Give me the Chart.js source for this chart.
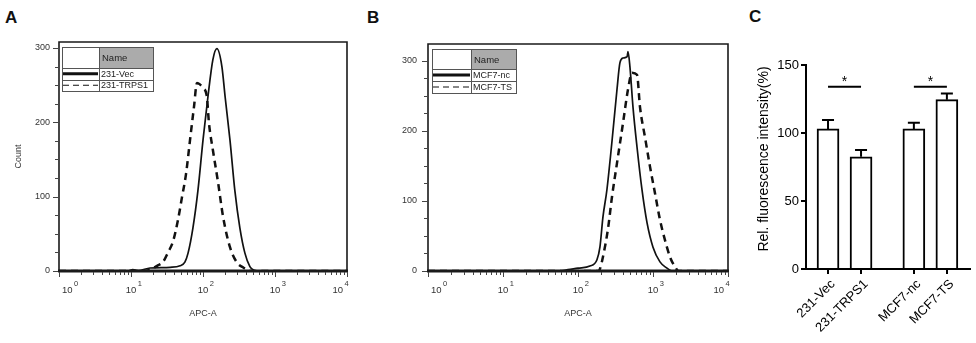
<!DOCTYPE html>
<html><head><meta charset="utf-8">
<script src="https://cdn.jsdelivr.net/npm/chart.js@4.4.1/dist/chart.umd.min.js"></script>
<style>
html,body{margin:0;padding:0;background:#fff;}
body{width:976px;height:343px;position:relative;overflow:hidden;font-family:"Liberation Sans",Arial,sans-serif;}
.wrap{position:absolute;top:0;height:343px;}
.letter{position:absolute;font-weight:bold;font-size:17px;line-height:17px;color:#111;}
canvas{display:block;}
</style></head><body>
<div class="letter" style="left:5px;top:9px">A</div>
<div class="letter" style="left:367px;top:9px">B</div>
<div class="letter" style="left:749px;top:8px">C</div>
<div class="wrap" style="left:0;width:360px"><canvas id="cA" width="360" height="343"></canvas></div>
<div class="wrap" style="left:360px;width:380px"><canvas id="cB" width="380" height="343"></canvas></div>
<div class="wrap" style="left:700px;width:276px"><canvas id="cC" width="276" height="343"></canvas></div>
<script>
// ---------- Panel A : APC-A histograms ----------
const seriesNamesA = ['231-Vec', '231-TRPS1'];
const vecAPC   = [1, 9, 10.6, 12.5, 18.4, 35, 48, 56, 62, 72.5, 85, 100, 117, 137, 156, 183, 203, 237, 277, 325, 382, 448, 510, 580, 10000];
const vecCount = [0, 0, 2, 0.5, 4, 5, 7, 12, 24, 58, 108, 176, 234, 284, 299, 275, 234, 176, 108, 58, 24, 6, 1, 0, 0];
const trpsAPC   = [1, 15.6, 18.4, 23, 27.8, 32.7, 38.4, 45, 51, 58, 66, 75, 82.5, 90.6, 100, 113, 121, 137, 162, 190, 237, 298, 359, 420, 477, 10000];
const trpsCount = [0, 0, 2, 7, 12, 25, 40, 69, 99, 130, 176, 221, 253, 251, 246, 235, 199, 163, 119, 73, 32, 11, 5, 1, 0, 0];

// ---------- Panel B : APC-A histograms ----------
const seriesNamesB = ['MCF7-nc', 'MCF7-TS'];
const ncAPC   = [1, 57.5, 73.6, 100, 144, 179, 196, 215, 243, 285, 331, 362, 398, 452, 464, 493, 541, 612, 713, 832, 1000, 1239, 1537, 1686, 1800, 10000];
const ncCount = [0, 0, 2, 4, 7, 16, 34, 77, 116, 187, 259, 297, 304, 306, 313, 291, 234, 177, 116, 69, 34, 13, 4, 1, 0, 0];
const tsAPC   = [1, 185, 196, 215, 251, 284, 331, 398, 464, 525, 612, 671, 782, 912, 1063, 1239, 1445, 1686, 1965, 2200, 10000];
const tsCount = [0, 0, 3, 20, 60, 106, 154, 211, 259, 283, 280, 234, 191, 149, 111, 73, 44, 20, 6, 0, 0];

// ---------- shared histogram axis labels ----------
const countTicks = [0, 100, 200, 300];
const decadeExponents = [0, 1, 2, 3, 4];
const histXTitle = 'APC-A';
const histYTitle = 'Count';
const legendHeader = 'Name';

// ---------- Panel C : bar chart ----------
const barCategories = ['231-Vec', '231-TRPS1', 'MCF7-nc', 'MCF7-TS'];
const barMeans  = [103, 82.5, 103, 124.5];
const barErrors = [6.5, 5, 4.5, 4.5];
const sigPairs  = [[0, 1], [2, 3]];
const sigLevel  = 134;
const sigMarks  = ['*', '*'];
const barYTicks = [0, 50, 100, 150];
const barYTitle = 'Rel. fluorescence intensity(%)';

const FONT = '"Liberation Sans", Arial, sans-serif';

function makeHist(id, o) {
  const plugin = {
    id: 'hist_' + id,
    afterDatasetsDraw(chart) {
      const {ctx, chartArea: a, scales: {x, y}} = chart;
      ctx.save();
      // frame
      ctx.strokeStyle = '#1a1a1a'; ctx.lineWidth = 1.6;
      ctx.beginPath(); ctx.moveTo(a.left, a.bottom); ctx.lineTo(a.left, a.top);
      ctx.lineTo(a.right, a.top); ctx.lineTo(a.right, a.bottom); ctx.stroke();
      ctx.lineWidth = 3; ctx.beginPath(); ctx.moveTo(a.left - 1, a.bottom); ctx.lineTo(a.right + 1, a.bottom); ctx.stroke();
      // x tick marks (log decades + minors)
      ctx.lineWidth = 1; ctx.strokeStyle = '#444';
      decadeExponents.forEach((e, i) => {
        const d = Math.pow(10, e);
        const mults = i === decadeExponents.length - 1 ? [1] : [1,2,3,4,5,6,7,8,9];
        mults.forEach(m => {
          const px = Math.round(x.getPixelForValue(m * d)) + 0.5;
          const len = m === 1 ? 5 : 3;
          ctx.beginPath(); ctx.moveTo(px, a.bottom + 1); ctx.lineTo(px, a.bottom + 1 + len); ctx.stroke();
        });
      });
      // y tick marks
      for (let v = 0; v <= y.max; v += 25) {
        const py = Math.round(y.getPixelForValue(v)) + 0.5;
        const len = countTicks.includes(v) ? 5 : 3;
        ctx.beginPath(); ctx.moveTo(a.left - 1, py); ctx.lineTo(a.left - 1 - len, py); ctx.stroke();
      }
      // x tick labels 10^n
      ctx.fillStyle = '#333'; ctx.textBaseline = 'alphabetic'; ctx.textAlign = 'left';
      decadeExponents.forEach((e, i) => {
        const px = x.getPixelForValue(Math.pow(10, e));
        ctx.font = '9.5px ' + FONT;
        const w = ctx.measureText('10').width;
        let left;
        if (i === 0) left = px + 3;
        else if (i === decadeExponents.length - 1) left = px - w - 4;
        else left = px - w / 2;
        ctx.fillText('10', left, a.bottom + 22);
        ctx.font = '7.5px ' + FONT;
        ctx.fillText(String(e), left + w + 1.5, a.bottom + 15);
      });
      // axis titles
      ctx.font = '9px ' + FONT; ctx.textAlign = 'center';
      ctx.fillText(histXTitle, (a.left + a.right) / 2, a.bottom + 45);
      if (o.yTitle) {
        ctx.save(); ctx.translate(21, (a.top + a.bottom) / 2); ctx.rotate(-Math.PI / 2);
        ctx.fillText(histYTitle, 0, 0); ctx.restore();
      }
      // legend table
      const L = o.legend;
      const lx = a.left + L.dx, ly = a.top + L.dy, W = L.w, H = L.head + 2 * L.row, sx = lx + L.col1;
      ctx.fillStyle = '#fff'; ctx.fillRect(lx, ly, W, H);
      ctx.fillStyle = '#ababab'; ctx.fillRect(sx, ly, lx + W - sx, L.head);
      ctx.strokeStyle = '#555'; ctx.lineWidth = 1;
      ctx.strokeRect(lx + 0.5, ly + 0.5, W, H);
      ctx.beginPath();
      ctx.moveTo(Math.round(sx) + 0.5, ly); ctx.lineTo(Math.round(sx) + 0.5, ly + H);
      ctx.moveTo(lx, Math.round(ly + L.head) + 0.5); ctx.lineTo(lx + W, Math.round(ly + L.head) + 0.5);
      ctx.moveTo(lx, Math.round(ly + L.head + L.row) + 0.5); ctx.lineTo(lx + W, Math.round(ly + L.head + L.row) + 0.5);
      ctx.stroke();
      ctx.fillStyle = '#222'; ctx.font = '9.5px ' + FONT; ctx.textAlign = 'left'; ctx.textBaseline = 'middle';
      ctx.fillText(legendHeader, sx + 3, ly + L.head / 2 + 1);
      ctx.font = '9px ' + FONT;
      chart.data.datasets.forEach((ds, i) => {
        const cy = ly + L.head + L.row * (i + 0.5);
        ctx.fillStyle = '#222';
        ctx.fillText(ds.label, sx + 2, cy + 0.5);
        ctx.strokeStyle = '#111';
        ctx.lineWidth = i === 0 ? 3 : 1.2;
        ctx.setLineDash(i === 0 ? [] : [6, 4]);
        ctx.beginPath(); ctx.moveTo(lx + 1, cy); ctx.lineTo(sx - 1, cy); ctx.stroke();
        ctx.setLineDash([]);
      });
      ctx.restore();
    }
  };
  const mk = (xs, ys) => xs.map((v, i) => ({x: v, y: ys[i]}));
  return new Chart(document.getElementById(id), {
    type: 'line',
    data: {datasets: [
      {label: o.names[0], data: mk(o.x0, o.y0), borderColor: '#111', borderWidth: 1.7, pointRadius: 0, cubicInterpolationMode: 'monotone', fill: false},
      {label: o.names[1], data: mk(o.x1, o.y1), borderColor: '#111', borderWidth: 2.5, borderDash: [7, 5], pointRadius: 0, cubicInterpolationMode: 'monotone', fill: false}
    ]},
    options: {
      responsive: false, animation: false, devicePixelRatio: 1,
      layout: {padding: {left: 0, right: o.padRight, top: o.top, bottom: 0}},
      plugins: {legend: {display: false}, tooltip: {enabled: false}},
      scales: {
        x: {type: 'logarithmic', min: 1, max: 10000,
            ticks: {display: false}, grid: {display: false, drawTicks: false}, border: {display: false},
            afterFit(s) { s.height = 343 - o.bottom; }},
        y: {type: 'linear', min: 0, max: o.ymax,
            afterBuildTicks(s) { s.ticks = countTicks.map(v => ({value: v})); },
            ticks: {display: true, font: {size: 9, family: FONT}, color: '#333', padding: o.labPad},
            grid: {display: false, drawTicks: false}, border: {display: false},
            afterFit(s) { s.width = o.yWidth; }}
      }
    },
    plugins: [plugin]
  });
}

makeHist('cA', {names: seriesNamesA, x0: vecAPC, y0: vecCount, x1: trpsAPC, y1: trpsCount,
  padRight: 13, top: 42, bottom: 271, yWidth: 59, ymax: 308, labPad: 9, yTitle: true,
  legend: {dx: 3, dy: 5, w: 91, col1: 37, head: 21, row: 11.5}});
makeHist('cB', {names: seriesNamesB, x0: ncAPC, y0: ncCount, x1: tsAPC, y1: tsCount,
  padRight: 12, top: 44, bottom: 271, yWidth: 68, ymax: 324, labPad: 11, yTitle: false,
  legend: {dx: 4, dy: 5, w: 84, col1: 39, head: 20, row: 12}});

// ---------- Panel C ----------
const groupBreakAfter = 1, groupGap = 0.6;
const barPos = barCategories.map((c, i) => i + (i > groupBreakAfter ? groupGap : 0));

const barPlugin = {
  id: 'barDecor',
  afterDatasetsDraw(chart) {
    const {ctx, chartArea: a, scales: {x, y}} = chart;
    ctx.save();
    ctx.strokeStyle = '#000'; ctx.lineWidth = 2;
    chart.getDatasetMeta(0).data.forEach((el, i) => {
      const top = y.getPixelForValue(barMeans[i] + barErrors[i]);
      ctx.beginPath(); ctx.moveTo(el.x, el.y); ctx.lineTo(el.x, top);
      ctx.moveTo(el.x - 6, top); ctx.lineTo(el.x + 6, top); ctx.stroke();
    });
    ctx.fillStyle = '#000'; ctx.textAlign = 'center'; ctx.textBaseline = 'alphabetic';
    ctx.font = '14px ' + FONT;
    sigPairs.forEach((p, k) => {
      const mx = (x.getPixelForValue(barPos[p[0]]) + x.getPixelForValue(barPos[p[1]])) / 2;
      ctx.fillText(sigMarks[k], mx, y.getPixelForValue(sigLevel) - 1);
    });
    // category labels, rotated
    ctx.font = '13px ' + FONT; ctx.textAlign = 'right'; ctx.textBaseline = 'middle';
    barCategories.forEach((c, i) => {
      const px = x.getPixelForValue(barPos[i]);
      ctx.save(); ctx.translate(px + 5, a.bottom + 13); ctx.rotate(-Math.PI / 4);
      ctx.fillText(c, 0, 0); ctx.restore();
    });
    // y title
    ctx.font = '14px ' + FONT; ctx.textAlign = 'center'; ctx.textBaseline = 'middle';
    ctx.save(); ctx.translate(64, 159); ctx.rotate(-Math.PI / 2); ctx.fillText(barYTitle, 0, 0); ctx.restore();
    ctx.restore();
  }
};

const sigDatasets = sigPairs.map(p => ({
  type: 'line', data: [{x: barPos[p[0]], y: sigLevel}, {x: barPos[p[1]], y: sigLevel}],
  borderColor: '#000', borderWidth: 2, pointRadius: 0, fill: false
}));

new Chart(document.getElementById('cC'), {
  type: 'bar',
  data: {datasets: [
    {type: 'bar', label: 'mean', data: barPos.map((p, i) => ({x: p, y: barMeans[i]})),
     backgroundColor: '#fff', borderColor: '#000', borderWidth: 2, barThickness: 22}
  ].concat(sigDatasets)},
  options: {
    responsive: false, animation: false, devicePixelRatio: 1,
    layout: {padding: {left: 0, right: 6, top: 65, bottom: 0}},
    plugins: {legend: {display: false}, tooltip: {enabled: false}},
    scales: {
      x: {type: 'linear', min: -0.667, max: 4.3, offset: false,
          afterBuildTicks(s) { s.ticks = barPos.map(v => ({value: v})); },
          ticks: {display: false},
          grid: {display: true, drawOnChartArea: false, drawTicks: true, tickLength: 5, color: '#000', lineWidth: 2, offset: false},
          border: {display: true, color: '#000', width: 2},
          afterFit(s) { s.height = 74; }},
      y: {type: 'linear', min: 0, max: 150,
          afterBuildTicks(s) { s.ticks = barYTicks.map(v => ({value: v})); },
          ticks: {font: {size: 13, family: FONT}, color: '#000', padding: 2},
          grid: {display: true, drawOnChartArea: false, drawTicks: true, tickLength: 5, color: '#000', lineWidth: 2},
          border: {display: true, color: '#000', width: 2},
          afterFit(s) { s.width = 106; }}
    }
  },
  plugins: [barPlugin]
});
</script>
</body></html>
